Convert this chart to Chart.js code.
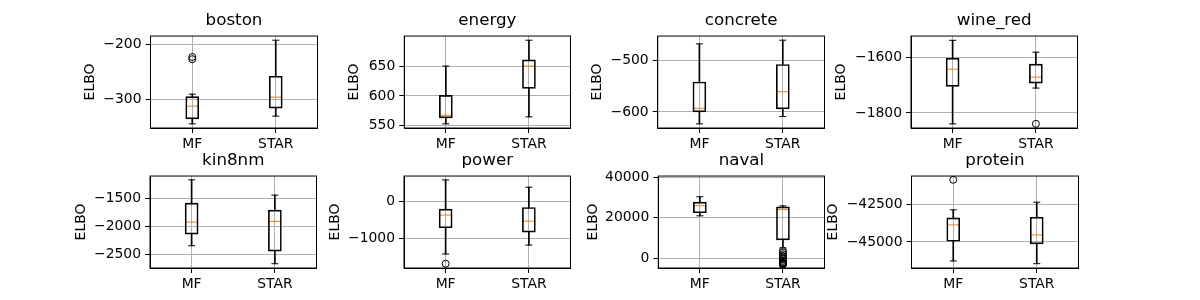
<!DOCTYPE html>
<html>
<head>
<meta charset="utf-8">
<script src="https://cdn.jsdelivr.net/npm/chart.js@4"></script>
<style>
  html, body { margin: 0; padding: 0; background: #fff; }
  #wrap { position: relative; width: 1200px; height: 300px; overflow: hidden; }
  #wrap canvas { position: absolute; }
</style>
</head>
<body>
<div id="wrap"></div>
<script>
// boxplot stats per subplot, each entry = [MF, STAR]
var subplotNames = ['boston', 'energy', 'concrete', 'wine_red', 'kin8nm', 'power', 'naval', 'protein'];
var methods = ['MF', 'STAR'];

var whiskerLo = [[-343.6, -329.6], [553.3, 565], [-623.2, -609], [-1839.3, -1710.7], [-2352, -2673], [-1432, -1189], [20930, 5140], [-46284, -46466]];
var boxLo = [[-334.5, -315], [563.3, 612.7], [-600, -594.2], [-1704.8, -1692.9], [-2143, -2446], [-721, -838], [22420, 9090], [-44955, -45135]];
var medians = [[-311.5, -295], [567.7, 650], [-593, -560.7], [-1642.9, -1671.4], [-1928.6, -1917.6], [-378, -541], [25870, 24000], [-43851, -44527]];
var boxHi = [[-294, -257], [601, 660.5], [-541.8, -507.7], [-1603.6, -1625], [-1589, -1714], [-216, -173], [27660, 25300], [-43378, -43338]];
var whiskerHi = [[-289.6, -191.5], [650, 693.3], [-467.7, -460.5], [-1539.3, -1582], [-1173, -1446], [576, 378], [30300, 25800], [-42838, -42324]];
var outliersMF = [[-222, -226], [], [], [], [], [-1694], [], [-40811]];
var outliersSTAR = [[], [], [], [-1839], [], [], [3800, 2900, 2000, 1200, 400, -400, -1200, -1800, -2200, -2500, -2700, -2800, -2850, -2900], []];

var yTicks = [[-300, -200], [550, 600, 650], [-600, -500], [-1800, -1600], [-2500, -2000, -1500], [-1000, 0], [0, 20000, 40000], [-45000, -42500]];
var yMin = [-351.2, 546.3, -631.3, -1854, -2749, -1810, -4740, -46757];
var yMax = [-183.9, 700.3, -452.4, -1524, -1105, 680, 40500, -40560];

// layout (pixels)
var AX_LEFT = [150, 404, 658, 911];
var AX_TOP = [36, 176];
var AX_W = 170, AX_H = 92, TITLE_H = 36, X_H = 30;
var labelOffset = [60.5, 50.3, 60.7, 70, 69, 69, 65.3, 78.5];

Chart.defaults.font.family = '"DejaVu Sans", sans-serif';
Chart.defaults.color = '#000';

var framePlugin = {
    id: 'frame',
    afterDraw: function(chart) {
        var a = chart.chartArea, ctx = chart.ctx;
        ctx.save();
        ctx.strokeStyle = '#000';
        ctx.lineWidth = 1;
        ctx.strokeRect(a.left, a.top, a.right - a.left, a.bottom - a.top);
        ctx.restore();
    }
};

function fmt(v) {
    return v < 0 ? '\u2212' + Math.abs(v) : String(v);
}

function makeChart(i) {
    var col = i % 4, row = Math.floor(i / 4);
    var yw = labelOffset[i] + 8;
    var w = Math.round(yw + AX_W + 4), h = TITLE_H + AX_H + X_H;
    var canvas = document.createElement('canvas');
    canvas.width = w;
    canvas.height = h;
    canvas.style.left = Math.round(AX_LEFT[col] - yw) + 'px';
    canvas.style.top = (AX_TOP[row] - TITLE_H) + 'px';
    canvas.style.width = w + 'px';
    canvas.style.height = h + 'px';
    document.getElementById('wrap').appendChild(canvas);

    var outliers = [];
    outliersMF[i].forEach(function(v) { outliers.push({ x: 'MF', y: v }); });
    outliersSTAR[i].forEach(function(v) { outliers.push({ x: 'STAR', y: v }); });

    var whiskerBar = { type: 'bar', backgroundColor: '#000', borderWidth: 0, barThickness: 1, grouped: false };
    var capLine = { type: 'line', showLine: false, pointStyle: 'line', pointRadius: 3.5, pointHoverRadius: 3.5, borderColor: '#000', borderWidth: 1 };

    new Chart(canvas, {
        type: 'bar',
        data: {
            labels: methods,
            datasets: [
                Object.assign({ data: methods.map(function(m, j) { return [whiskerLo[i][j], boxLo[i][j]]; }) }, whiskerBar),
                Object.assign({ data: methods.map(function(m, j) { return [boxHi[i][j], whiskerHi[i][j]]; }) }, whiskerBar),
                {
                    type: 'bar',
                    data: methods.map(function(m, j) { return [boxLo[i][j], boxHi[i][j]]; }),
                    backgroundColor: 'rgba(0,0,0,0)',
                    borderColor: '#000',
                    borderWidth: 1,
                    borderSkipped: false,
                    barThickness: 13,
                    grouped: false
                },
                Object.assign({ data: whiskerLo[i] }, capLine),
                Object.assign({ data: whiskerHi[i] }, capLine),
                {
                    type: 'line',
                    data: medians[i],
                    showLine: false,
                    pointStyle: 'line',
                    pointRadius: 6.5,
                    pointHoverRadius: 6.5,
                    borderColor: '#ff7f0e',
                    borderWidth: 1
                },
                {
                    type: 'line',
                    data: outliers,
                    showLine: false,
                    pointStyle: 'circle',
                    pointRadius: 3.5,
                    pointHoverRadius: 3.5,
                    borderColor: '#000',
                    backgroundColor: 'rgba(0,0,0,0)',
                    borderWidth: 1
                }
            ]
        },
        options: {
            responsive: false,
            animation: false,
            devicePixelRatio: 1,
            layout: { padding: { left: 0, right: 4, top: 0, bottom: 0 } },
            plugins: {
                legend: { display: false },
                tooltip: { enabled: false },
                title: {
                    display: true,
                    text: subplotNames[i],
                    fullSize: false,
                    color: '#000',
                    font: { size: 16.7, weight: 'normal', lineHeight: 1.2 },
                    padding: { top: 11, bottom: 5 }
                }
            },
            scales: {
                x: {
                    type: 'category',
                    offset: true,
                    grid: { offset: false, color: '#b0b0b0', lineWidth: 1, tickColor: '#000', tickLength: 5 },
                    border: { display: true, color: '#000', width: 1 },
                    ticks: { font: { size: 13.9 }, color: '#000', padding: 3, maxRotation: 0 },
                    afterFit: function(scale) { scale.height = X_H; }
                },
                y: {
                    type: 'linear',
                    min: yMin[i],
                    max: yMax[i],
                    grid: { color: '#b0b0b0', lineWidth: 1, tickColor: '#000', tickLength: 5 },
                    border: { display: true, color: '#000', width: 1 },
                    afterBuildTicks: function(scale) {
                        scale.ticks = yTicks[i].map(function(v) { return { value: v }; });
                    },
                    ticks: {
                        font: { size: 13.9 },
                        color: '#000',
                        padding: 4,
                        callback: function(value) { return fmt(value); }
                    },
                    title: {
                        display: true,
                        text: 'ELBO',
                        color: '#000',
                        font: { size: 13.9, lineHeight: 1.2 },
                        padding: 0
                    },
                    afterFit: function(scale) { scale.width = yw; }
                }
            }
        },
        plugins: [framePlugin]
    });
}

for (var i = 0; i < subplotNames.length; i++) {
    makeChart(i);
}
</script>
</body>
</html>
